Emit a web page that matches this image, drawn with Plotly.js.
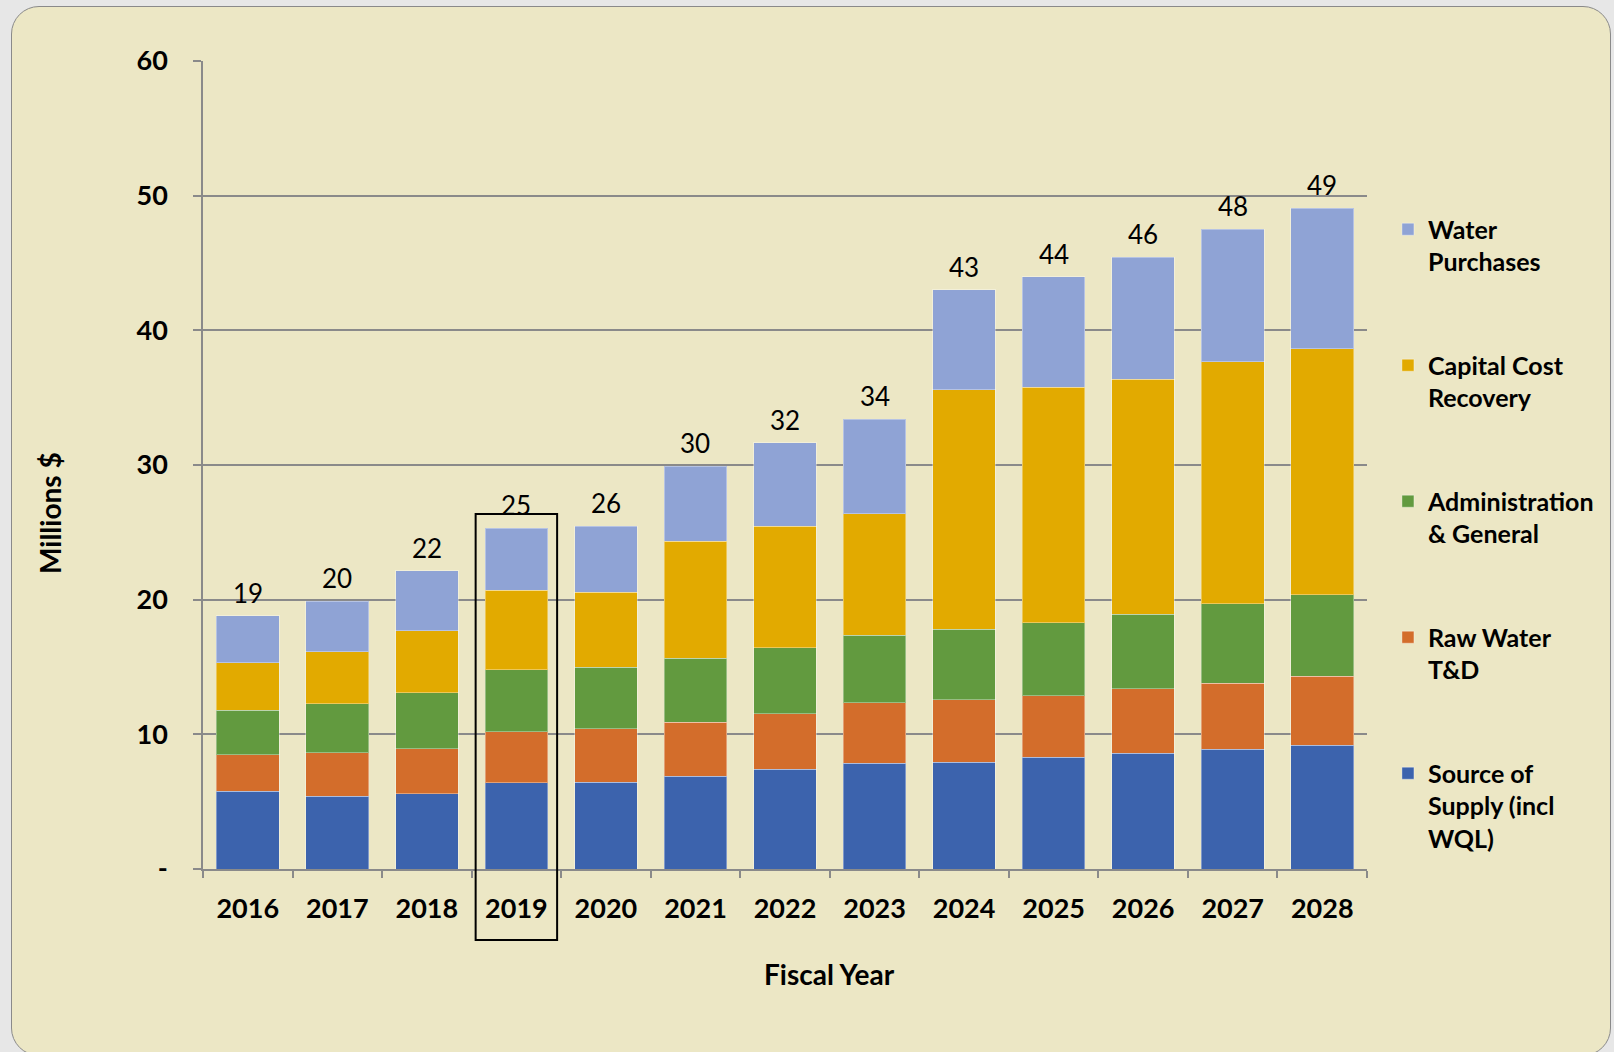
<!DOCTYPE html>
<html>
<head>
<meta charset="utf-8">
<script src="https://cdn.plot.ly/plotly-3.0.1.min.js"></script>
<style>
  html, body { margin: 0; padding: 0; background: #e7e7e7; width: 1614px; height: 1052px; overflow: hidden; }
  #frame { position: absolute; left: 11px; top: 6px; width: 1600px; height: 1050px; background: #ece7c5; border: 1.5px solid #8a8a8a; border-radius: 28px; box-sizing: border-box; }
  #chart { position: absolute; left: 0; top: 0; width: 1614px; height: 1052px; }
</style>
</head>
<body>
<div id="frame"></div>
<div id="chart"></div>
<script>
// ---- data (millions $) ----
const years = ['2016','2017','2018','2019','2020','2021','2022','2023','2024','2025','2026','2027','2028'];
const sourceOfSupply = [5.76, 5.42, 5.59, 6.39, 6.46, 6.90, 7.42, 7.87, 7.93, 8.30, 8.58, 8.89, 9.19];
const rawWaterTD     = [2.74, 3.23, 3.35, 3.82, 3.96, 4.00, 4.12, 4.48, 4.65, 4.58, 4.82, 4.91, 5.13];
const adminGeneral   = [3.30, 3.62, 4.13, 4.59, 4.58, 4.76, 4.89, 5.02, 5.22, 5.40, 5.50, 5.89, 6.05];
const capitalCost    = [3.50, 3.85, 4.62, 5.90, 5.56, 8.69, 9.03, 9.01, 17.78, 17.50, 17.46, 17.97, 18.25];
const waterPurchases = [3.50, 3.78, 4.45, 4.60, 4.90, 5.57, 6.19, 7.00, 7.45, 8.20, 9.06, 9.84, 10.46];
const totalLabels = ['19','20','22','25','26','30','32','34','43','44','46','48','49'];
const yTickVals = [0, 10, 20, 30, 40, 50, 60];
const yTickText = ['-', '10', '20', '30', '40', '50', '60'];
const highlightYear = '2019';

const seriesNames = ['Source of<br>Supply (incl<br>WQL)', 'Raw Water<br>T&D', 'Administration<br>& General', 'Capital Cost<br>Recovery', 'Water<br>Purchases'];
const seriesData = [sourceOfSupply, rawWaterTD, adminGeneral, capitalCost, waterPurchases];
const seriesColors = ['#3c63ad', '#d36d2b', '#629a3f', '#e2aa00', '#8fa3d5'];

const totals = years.map((_, i) => seriesData.reduce((s, arr) => s + arr[i], 0));

const FONT = 'Lato, "Open Sans", sans-serif';
const GRID = '#8a8a8a';

const traces = seriesData.map((vals, k) => ({
  type: 'bar',
  name: seriesNames[k],
  x: years,
  y: vals,
  legendgroup: 'g' + k,
  legendrank: seriesData.length - k,
  marker: { color: seriesColors[k], line: { color: 'rgba(255,255,255,0.35)', width: 1 } },
  hoverinfo: 'y+name'
}));

// total labels above each stack (x given as category index)
const totalAnnotations = years.map((yr, i) => ({
  x: i,
  y: totals[i],
  xref: 'x',
  yref: 'y',
  text: totalLabels[i],
  showarrow: false,
  xanchor: 'center',
  yanchor: 'middle',
  yshift: 23,
  font: { family: FONT, size: 26, color: '#000' }
}));

const hi = years.indexOf(highlightYear);

const layout = {
  width: 1614,
  height: 1052,
  paper_bgcolor: 'rgba(0,0,0,0)',
  plot_bgcolor: 'rgba(0,0,0,0)',
  margin: { l: 203, r: 247, t: 61, b: 183 },
  barmode: 'stack',
  bargap: 0.3,
  showlegend: true,
  font: { family: FONT, color: '#000' },
  xaxis: {
    type: 'category',
    range: [-0.5, years.length - 0.5],
    tickson: 'boundaries',
    ticks: 'outside',
    ticklen: 7,
    tickwidth: 1.5,
    tickcolor: GRID,
    showline: true,
    linecolor: GRID,
    linewidth: 1.5,
    showgrid: false,
    tickfont: { family: FONT, size: 27, weight: 'bold', color: '#000' },
    ticklabelstandoff: 15,
    fixedrange: true
  },
  yaxis: {
    range: [0, 60],
    tickvals: yTickVals,
    ticktext: yTickText,
    ticks: 'outside',
    ticklen: 8,
    tickwidth: 1.5,
    tickcolor: GRID,
    showline: true,
    linecolor: GRID,
    linewidth: 1.5,
    showgrid: true,
    gridcolor: GRID,
    gridwidth: 1.5,
    zeroline: false,
    tickfont: { family: FONT, size: 27, weight: 'bold', color: '#000' },
    ticklabelstandoff: 20,
    fixedrange: true
  },
  legend: {
    x: 1.018,
    xanchor: 'left',
    y: 0.82,
    yanchor: 'top',
    traceorder: 'grouped',
    tracegroupgap: 68,
    valign: 'top',
    bgcolor: 'rgba(0,0,0,0)',
    font: { family: FONT, size: 25, weight: 'bold', color: '#000' },
    itemclick: false,
    itemdoubleclick: false
  },
  shapes: [{
    type: 'rect',
    xref: 'x',
    yref: 'paper',
    x0: hi - 0.455,
    x1: hi + 0.455,
    y0: -0.088,
    y1: 0.4395,
    line: { color: '#000', width: 2 },
    fillcolor: 'rgba(0,0,0,0)',
    layer: 'above'
  }],
  annotations: totalAnnotations.concat([
    {
      text: 'Millions $',
      xref: 'paper', yref: 'paper',
      x: -0.131, y: 0.44,
      xanchor: 'center', yanchor: 'middle',
      textangle: -90,
      showarrow: false,
      font: { family: FONT, size: 28, weight: 'bold', color: '#000' }
    },
    {
      text: 'Fiscal Year',
      xref: 'paper', yref: 'paper',
      x: 0.538, y: -0.13,
      xanchor: 'center', yanchor: 'middle',
      showarrow: false,
      font: { family: FONT, size: 28, weight: 'bold', color: '#000' }
    }
  ])
};

Plotly.newPlot('chart', traces, layout, { displayModeBar: false });
</script>
</body>
</html>
